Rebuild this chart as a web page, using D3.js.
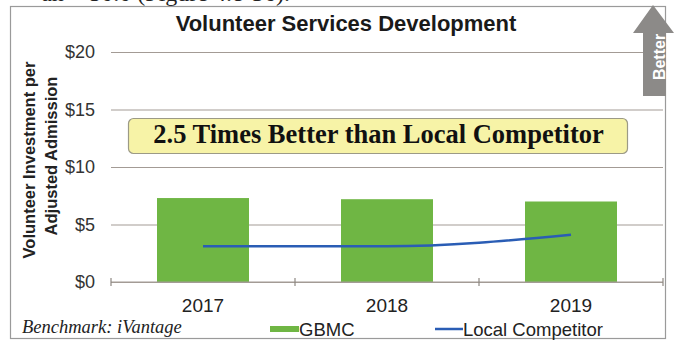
<!DOCTYPE html>
<html>
<head>
<meta charset="utf-8">
<script src="https://cdn.jsdelivr.net/npm/d3@7"></script>
<style>
  html, body { margin: 0; padding: 0; background: #fff; }
  svg { display: block; }
</style>
</head>
<body>
<svg id="chart" width="675" height="341"></svg>
<script>
// Volunteer investment per adjusted admission, GBMC vs. local competitor
const years = ["2017", "2018", "2019"];
const gbmcValues = [7.3, 7.2, 7.0];
const competitorValues = [3.1, 3.1, 4.1];
const yTickValues = [0, 5, 10, 15, 20];

const svg = d3.select("#chart");
const plot = { left: 111, right: 663, top: 52, bottom: 282 };
const sans = "Liberation Sans, Arial, sans-serif";
const serif = "Liberation Serif, Times New Roman, serif";

const x = d3.scaleBand()
  .domain(years)
  .range([plot.left, plot.right])
  .paddingInner(0.5)
  .paddingOuter(0.25);

const y = d3.scaleLinear()
  .domain([0, 20])
  .range([plot.bottom, plot.top]);

// running text of the page above the chart
svg.append("text")
  .attr("x", 290).attr("y", 1)
  .attr("text-anchor", "end")
  .attr("font-family", serif)
  .attr("font-size", 24)
  .attr("fill", "#222")
  .text("an = 50.0 (Figure 4.8-36).");

// chart frame
svg.append("rect")
  .attr("x", 10.5).attr("y", 6.5)
  .attr("width", 655).attr("height", 332)
  .attr("fill", "#fff")
  .attr("stroke", "#9a9a9a")
  .attr("stroke-width", 1.2);

// title
svg.append("text")
  .attr("x", 346).attr("y", 31)
  .attr("text-anchor", "middle")
  .attr("font-family", sans)
  .attr("font-weight", "bold")
  .attr("font-size", 22)
  .attr("fill", "#1a1a1a")
  .text("Volunteer Services Development");

// horizontal gridlines
const grid = svg.append("g")
  .attr("transform", `translate(${plot.left},0)`)
  .call(d3.axisLeft(y).tickValues(yTickValues).tickSize(-(plot.right - plot.left)).tickFormat(""));
grid.select(".domain").remove();
grid.selectAll("line").attr("stroke", "#a39b95").attr("stroke-width", 1.2);

// y tick labels
const yAxis = svg.append("g")
  .attr("transform", `translate(${plot.left},0)`)
  .call(d3.axisLeft(y).tickValues(yTickValues).tickSize(0).tickPadding(16).tickFormat(d => "$" + d));
yAxis.select(".domain").remove();
yAxis.selectAll("text")
  .attr("font-family", sans)
  .attr("font-size", 18)
  .attr("fill", "#333");

// y axis title (two lines)
const yTitle = svg.append("text")
  .attr("transform", "translate(0,160) rotate(-90)")
  .attr("text-anchor", "middle")
  .attr("font-family", sans)
  .attr("font-weight", "bold")
  .attr("font-size", 16.5)
  .attr("fill", "#222");
yTitle.append("tspan").attr("x", 0).attr("y", 35).text("Volunteer Investment per");
yTitle.append("tspan").attr("x", 4).attr("y", 57).text("Adjusted Admission");

// GBMC bars
svg.append("g").selectAll("rect")
  .data(years)
  .join("rect")
  .attr("x", d => x(d))
  .attr("y", (d, i) => y(gbmcValues[i]))
  .attr("width", x.bandwidth())
  .attr("height", (d, i) => y(0) - y(gbmcValues[i]))
  .attr("fill", "#6fb644");

// x axis with ticks at category boundaries
const axisG = svg.append("g");
axisG.append("line")
  .attr("x1", plot.left).attr("x2", plot.right)
  .attr("y1", y(0)).attr("y2", y(0))
  .attr("stroke", "#a39b95").attr("stroke-width", 1.2);
const step = x.step();
const boundaries = d3.range(years.length + 1).map(i => plot.left + i * step);
axisG.selectAll("line.tick")
  .data(boundaries)
  .join("line")
  .attr("class", "tick")
  .attr("x1", d => d).attr("x2", d => d)
  .attr("y1", y(0) - 4).attr("y2", y(0) + 4)
  .attr("stroke", "#8e8882").attr("stroke-width", 1.2);

const xAxis = svg.append("g")
  .attr("transform", `translate(0,${y(0)})`)
  .call(d3.axisBottom(x).tickSize(0).tickPadding(17));
xAxis.select(".domain").remove();
xAxis.selectAll("text")
  .attr("font-family", sans)
  .attr("font-size", 19)
  .attr("fill", "#222");

// competitor line
const line = d3.line()
  .x((d, i) => x(years[i]) + x.bandwidth() / 2)
  .y(d => y(d))
  .curve(d3.curveMonotoneX);
svg.append("path")
  .datum(competitorValues)
  .attr("d", line)
  .attr("fill", "none")
  .attr("stroke", "#2a5db5")
  .attr("stroke-width", 2.5);

// call-out box
const box = svg.append("g");
box.append("rect")
  .attr("x", 128.5).attr("y", 118.5)
  .attr("width", 499).attr("height", 35)
  .attr("rx", 5)
  .attr("fill", "#f7f3a7")
  .attr("stroke", "#9c9a86")
  .attr("stroke-width", 1.2);
box.append("text")
  .attr("x", 378.5).attr("y", 143)
  .attr("text-anchor", "middle")
  .attr("font-family", serif)
  .attr("font-weight", "bold")
  .attr("font-size", 26.5)
  .attr("fill", "#111")
  .text("2.5 Times Better than Local Competitor");

// "Better" arrow
const arrow = svg.append("g");
arrow.append("path")
  .attr("d", "M653,5 L674,33 L666,33 L666,96 L643,96 L643,33 L633,33 Z")
  .attr("fill", "#8c8a88");
arrow.append("text")
  .attr("transform", "translate(665,57) rotate(-90)")
  .attr("text-anchor", "middle")
  .attr("font-family", sans)
  .attr("font-weight", "bold")
  .attr("font-size", 16)
  .attr("fill", "#fff")
  .text("Better");

// source note
svg.append("text")
  .attr("x", 22).attr("y", 333)
  .attr("font-family", serif)
  .attr("font-style", "italic")
  .attr("font-size", 18.5)
  .attr("fill", "#222")
  .text("Benchmark: iVantage");

// legend
const legend = svg.append("g");
legend.append("rect")
  .attr("x", 270).attr("y", 326)
  .attr("width", 29).attr("height", 6)
  .attr("fill", "#6fb644");
legend.append("text")
  .attr("x", 299).attr("y", 336)
  .attr("font-family", sans)
  .attr("font-size", 18.5)
  .attr("fill", "#222")
  .text("GBMC");
legend.append("line")
  .attr("x1", 435).attr("x2", 463)
  .attr("y1", 329).attr("y2", 329)
  .attr("stroke", "#2a5db5").attr("stroke-width", 2.5);
legend.append("text")
  .attr("x", 463).attr("y", 336)
  .attr("font-family", sans)
  .attr("font-size", 18.5)
  .attr("fill", "#222")
  .text("Local Competitor");
</script>
</body>
</html>
